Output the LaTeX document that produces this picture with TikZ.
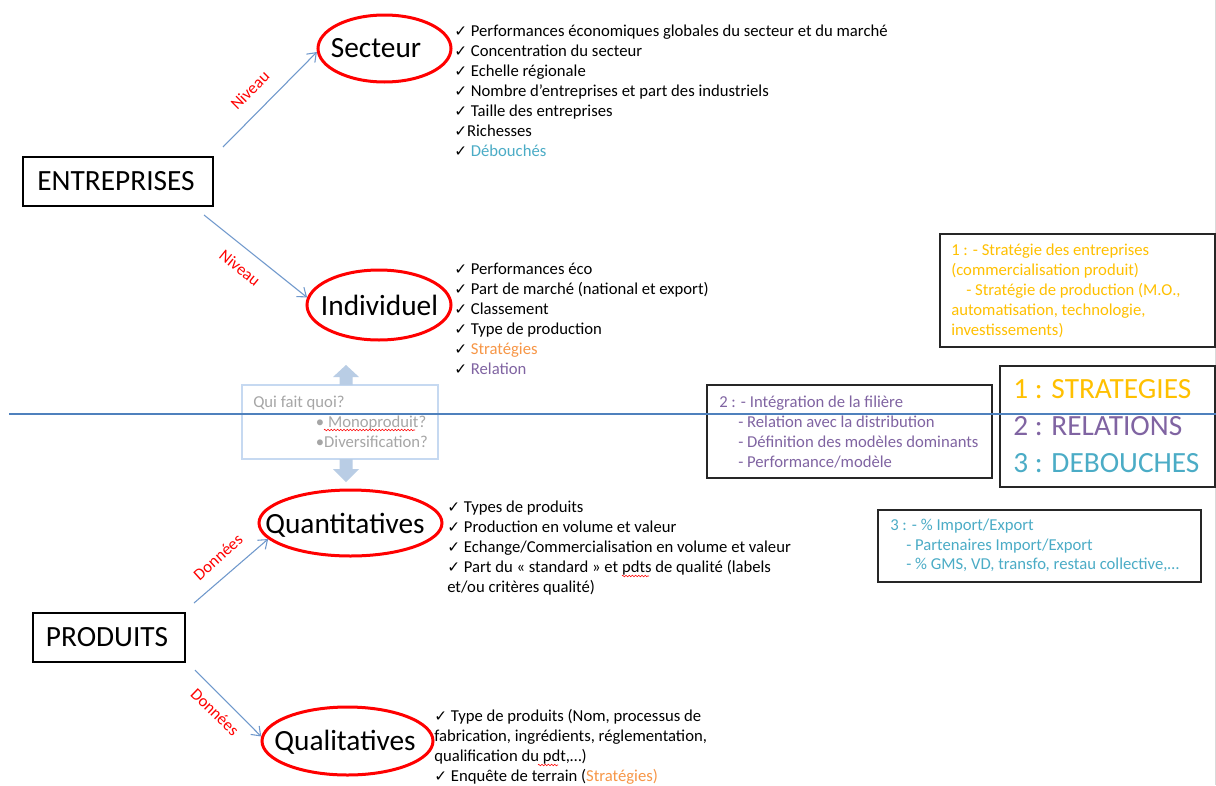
\documentclass[tikz,border=0pt]{standalone}
\usepackage{fontspec}
\setmainfont{Carlito}
\newfontfamily\dejavu{DejaVu Sans}
\usetikzlibrary{shapes.geometric,arrows.meta,decorations.pathmorphing}
\definecolor{arrblue}{HTML}{6F98CC}
\definecolor{linblue}{HTML}{4F81BD}
\definecolor{oOrange}{HTML}{F79646}
\definecolor{oGold}{HTML}{FFC000}
\definecolor{oPurple}{HTML}{8064A2}
\definecolor{oTeal}{HTML}{4BACC6}
\definecolor{qGrey}{HTML}{A6A6A6}
\definecolor{qBorder}{HTML}{C6D9F1}
\definecolor{qFill}{HTML}{B9CDE5}
\newcommand\ck{{\dejavu\fontsize{11.5}{12}\selectfont ✓}}
\tikzset{
  lbl/.style={font=\fontsize{22}{26}\selectfont, inner sep=0},
  bigbox/.style={draw=black, line width=1pt, rectangle, inner sep=0},
  ovl/.style={draw=red, line width=2.25pt, ellipse, inner sep=0},
  conn/.style={draw=arrblue, line width=0.8pt, -{Straight Barb[length=6pt,width=9pt]}},
  tag/.style={text=red, font=\fontsize{12.5}{14}\selectfont, inner sep=0},
  lst/.style={anchor=north west, inner sep=0, align=left, font=\fontsize{12.5}{15}\selectfont},
  infobox/.style={draw=black!85, line width=1pt, rectangle, inner sep=0},
  blockarr/.style={fill=qFill, draw=none},
  squig/.style={draw=red, line width=0.4pt, decorate, decoration={zigzag, amplitude=0.6pt, segment length=2.4pt}},
}
\begin{document}
\begin{tikzpicture}[x=0.75pt,y=-0.75pt]
\useasboundingbox (0,0) rectangle (1216,785);
\fill[white] (0,0) rectangle (1216,785);
\draw[black!15, line width=0.75pt] (1215.5,0) -- (1215.5,785);

% main boxes
\node[bigbox, minimum width=142.5pt, minimum height=36.75pt] (ent) at (118,181.5) {};
\node[lbl] (entT) at (116,181.5) {ENTREPRISES};
\node[bigbox, minimum width=114pt, minimum height=36.75pt] (prod) at (109,637.5) {};
\node[lbl] (prodT) at (107,637.5) {PRODUITS};

% ellipses
\node[ovl, minimum width=99.75pt, minimum height=50.25pt] (sect) at (384.5,48.5) {};
\node[lbl] (sectT) at (376,48.5) {Secteur};
\node[ovl, minimum width=108pt, minimum height=52.5pt] (indiv) at (379,305) {};
\node[lbl] (indivT) at (379.5,305) {Individuel};
\node[ovl, minimum width=137.25pt, minimum height=49.5pt] (quant) at (350.5,523) {};
\node[lbl] (quantT) at (345,525) {Quantitatives};
\node[ovl, minimum width=128.25pt, minimum height=51pt] (qual) at (347.5,741) {};
\node[lbl] (qualT) at (345,742) {Qualitatives};

% connectors
\coordinate (s1) at (223,147);
\coordinate (s2) at (204,215);
\coordinate (s3) at (194,603);
\coordinate (s4) at (195,670);
\draw[conn] (s1) -- (sect.183);
\draw[conn] (s2) -- (indiv.174);
\draw[conn] (s3) -- (quant.191);
\draw[conn] (s4) -- (qual.177);
\node[tag, rotate=45] (n1) at (250,90) {Niveau};
\node[tag, rotate=-39] (n2) at (240,268) {Niveau};
\node[tag, rotate=42] (d1) at (218,557) {Données};
\node[tag, rotate=-44] (d2) at (215,712) {Données};

% lists
\node[lst] (lsect) at (454,22.7) {\strut\ck{} Performances économiques globales du secteur et du marché\\
\ck{} Concentration du secteur\\
\ck{} Echelle régionale\\
\ck{} Nombre d’entreprises et part des industriels\\
\ck{} Taille des entreprises\\
\ck{}Richesses\\
\ck{} \textcolor{oTeal}{Débouchés}};
\node[lst] (lindiv) at (454,260) {\strut\ck{} Performances éco\\
\ck{} Part de marché (national et export)\\
\ck{} Classement\\
\ck{} Type de production\\
\ck{} \textcolor{oOrange}{Stratégies}\\
\ck{} \textcolor{oPurple}{Relation}};
\node[lst] (lquant) at (447,498) {\strut\ck{} Types de produits\\
\ck{} Production en volume et valeur\\
\ck{} Echange/Commercialisation en volume et valeur\\
\ck{} Part du « standard » et pdts de qualité (labels\\
et/ou critères qualité)};
\node[lst] (lqual) at (434,707) {\strut\ck{} Type de produits (Nom, processus de\\
fabrication, ingrédients, réglementation,\\
qualification du pdt,…)\\
\ck{} Enquête de terrain (\textcolor{oOrange}{Stratégies)}};

% Qui fait quoi
\node[draw=qBorder, line width=1.1pt, minimum width=147pt, minimum height=55.5pt, inner sep=0] (qui) at (340,422) {};
\node[lst, text=qGrey] (quiT) at (253,393) {\strut Qui fait quoi?\\
\hspace*{47pt}• Monoproduit?\\
\hspace*{47pt}•Diversification?};
\fill[blockarr] (346,365) -- (359,377) -- (352.5,377) -- (352.5,385) -- (339.5,385) -- (339.5,377) -- (333,377) -- cycle;
\fill[blockarr] (346,482) -- (359,469) -- (352.5,469) -- (352.5,459) -- (339.5,459) -- (339.5,469) -- (333,469) -- cycle;

% spelling marks
\draw[squig] (324,430) -- (415,430);
\draw[squig] (622,576) -- (649,576);
\draw[squig] (538,765) -- (558,765);

% info boxes
\node[infobox, minimum width=206.25pt, minimum height=84.75pt] (obox) at (1077.5,290.5) {};
\node[lst, text=oGold] (oboxT) at (951,241) {\strut 1 : - Stratégie des entreprises\\
(commercialisation produit)\\
\hspace*{11.25pt}- Stratégie de production (M.O.,\\
automatisation, technologie,\\
investissements)};
\node[infobox, minimum width=213.75pt, minimum height=69.75pt] (pbox) at (849.5,431.5) {};
\node[lst, text=oPurple] (pboxT) at (719,393) {\strut 2 : - Intégration de la filière\\
\hspace*{14.25pt}- Relation avec la distribution\\
\hspace*{14.25pt}- Définition des modèles dominants\\
\hspace*{14.25pt}- Performance/modèle};
\node[infobox, minimum width=161.25pt, minimum height=90.75pt] (legend) at (1107.5,426.5) {};
\node[lst, font=\fontsize{22}{27.75}\selectfont] (legendT) at (1013,372) {\strut\textcolor{oGold}{1 : STRATEGIES}\\
\textcolor{oPurple}{2 : RELATIONS}\\
\textcolor{oTeal}{3 : DEBOUCHES}};
\node[infobox, minimum width=242.25pt, minimum height=54pt] (tbox) at (1039.5,546) {};
\node[lst, text=oTeal, font=\fontsize{12.5}{14.6}\selectfont] (tboxT) at (890,517) {\strut 3 : - \% Import/Export\\
\hspace*{12pt}- Partenaires Import/Export\\
\hspace*{12pt}- \% GMS, VD, transfo, restau collective,…};

% horizontal rule
\coordinate (h1) at (9,414);
\coordinate (h2) at (1216,414);
\draw[linblue, line width=1.1pt] (h1) -- (h2);
\end{tikzpicture}
\end{document}
